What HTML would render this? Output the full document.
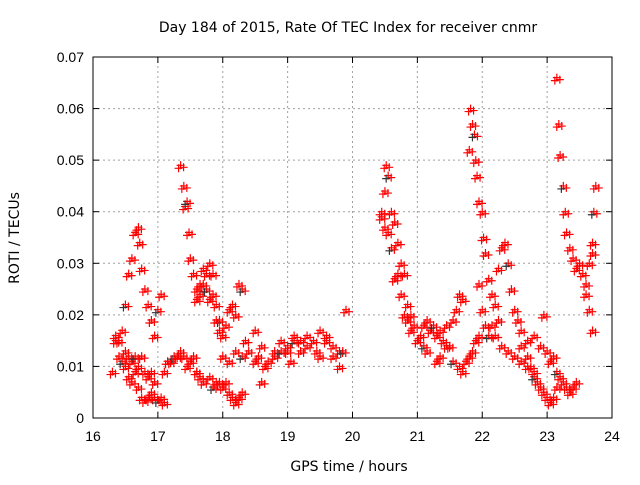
<!DOCTYPE html>
<html><head><meta charset="utf-8"><style>
body{margin:0;background:#fff;}
svg text{font-family:"Liberation Sans",sans-serif;fill:#000;}
</style></head><body>
<svg id="chart" width="640" height="480" xmlns="http://www.w3.org/2000/svg">
<rect width="640" height="480" fill="#fff"/>
<text x="348" y="32" font-size="14" text-anchor="middle" style="font-family:'DejaVu Sans',sans-serif">Day 184 of 2015, Rate Of TEC Index for receiver cnmr</text>
<text x="349" y="471" font-size="14" text-anchor="middle" style="font-family:'DejaVu Sans',sans-serif">GPS time / hours</text>
<text transform="translate(19,238) rotate(-90)" font-size="14" text-anchor="middle" style="font-family:'DejaVu Sans',sans-serif">ROTI / TECUs</text>
<g id="grid"></g>
<g id="ticks"></g>
<g id="points"></g>
<rect x="93" y="57" width="519" height="361" fill="none" stroke="#000" stroke-width="1"/>
</svg>
<script>
const xTicks=[16,17,18,19,20,21,22,23,24];
const yTicks=[0,0.01,0.02,0.03,0.04,0.05,0.06,0.07];
const yTickLabels=["0","0.01","0.02","0.03","0.04","0.05","0.06","0.07"];
const trackTimes=[
[16.3,16.35,16.4,16.45,16.5,16.55,16.6,16.65,16.7,16.75,16.8,16.85,16.9,16.95,17.0,17.05,17.1],
[16.35,16.4,16.45,16.5,16.55,16.6,16.65,16.7,16.72,16.75,16.8,16.85,16.9,16.95,17.0,17.05],
[16.5,16.55,16.6,16.65,16.7,16.75,16.8,16.85,16.9,16.95],
[17.1,17.15,17.2,17.25,17.3,17.35,17.4,17.45,17.5,17.55,17.6,17.65],
[17.35,17.4,17.42,17.45,17.48,17.5,17.55,17.6,17.65,17.7,17.75,17.8,17.85,17.9,17.95],
[17.6,17.65,17.7,17.75,17.8,17.85,17.9,17.95,18.0,18.05,18.1,18.15,18.2,18.25,18.3],
[17.6,17.7,17.8,17.85,17.9,17.95,18.0,18.05,18.1,18.15,18.2,18.25,18.3],
[18.0,18.1,18.2,18.3,18.35,18.4,18.5,18.55,18.6,18.65,18.7,18.8,18.9,19.0,19.1,19.2,19.3,19.4,19.5,19.6,19.7,19.8,19.9],
[18.5,18.6,18.8,18.9,19.0,19.05,19.1,19.2,19.3,19.45,19.5,19.6,19.7,19.8,19.85],
[20.45,20.5,20.52,20.55,20.6,20.65,20.7,20.75,20.8,20.85,20.9,20.95,21.0,21.05,21.1,21.15],
[20.45,20.5,20.55,20.6,20.65,20.7,20.75,20.8,20.85,20.9],
[21.1,21.15,21.2,21.25,21.3,21.35,21.4,21.45,21.5,21.55,21.6,21.65,21.7],
[21.3,21.35,21.45,21.55,21.65,21.7,21.75,21.8,21.85,21.9,21.95],
[21.8,21.82,21.85,21.88,21.9,21.92,21.95,22.0,22.02,22.05,22.1,22.15,22.2,22.25],
[21.95,22.0,22.05,22.1,22.15,22.2,22.3,22.4,22.5,22.6,22.7,22.8],
[22.25,22.3,22.35,22.4,22.45,22.5,22.55,22.6,22.7,22.8,22.9,22.95],
[22.6,22.7,22.75,22.8,22.85,22.9,22.95,23.0,23.05,23.1,23.15],
[23.15,23.18,23.2,23.25,23.28,23.3,23.35,23.4,23.45,23.5,23.55,23.6,23.65,23.7],
[23.0,23.05,23.1,23.15,23.2,23.25,23.3,23.35,23.4,23.45],
[23.6,23.65,23.7,23.72,23.75,23.7]
];
const trackValues=[
[0.009,0.015,0.012,0.011,0.010,0.008,0.007,0.009,0.006,0.004,0.0035,0.004,0.005,0.004,0.0035,0.004,0.003],
[0.016,0.015,0.017,0.022,0.028,0.031,0.036,0.037,0.034,0.029,0.025,0.022,0.019,0.016,0.021,0.024],
[0.013,0.012,0.011,0.012,0.010,0.012,0.009,0.008,0.009,0.007],
[0.009,0.011,0.011,0.012,0.012,0.013,0.012,0.010,0.011,0.012,0.009,0.008],
[0.049,0.045,0.041,0.042,0.036,0.031,0.028,0.025,0.024,0.026,0.028,0.030,0.028,0.022,0.019],
[0.023,0.026,0.029,0.025,0.023,0.024,0.019,0.017,0.016,0.018,0.021,0.022,0.020,0.026,0.025],
[0.009,0.007,0.008,0.006,0.007,0.007,0.006,0.007,0.005,0.004,0.003,0.004,0.005],
[0.012,0.011,0.013,0.012,0.015,0.013,0.011,0.012,0.007,0.010,0.011,0.013,0.015,0.014,0.015,0.013,0.016,0.015,0.017,0.016,0.014,0.013,0.021],
[0.017,0.014,0.012,0.013,0.013,0.011,0.016,0.015,0.014,0.013,0.012,0.015,0.012,0.010,0.013],
[0.040,0.044,0.049,0.047,0.040,0.038,0.034,0.030,0.028,0.022,0.020,0.018,0.015,0.016,0.014,0.013],
[0.039,0.037,0.036,0.033,0.027,0.028,0.024,0.020,0.019,0.017],
[0.018,0.019,0.017,0.018,0.016,0.017,0.015,0.018,0.014,0.019,0.021,0.024,0.023],
[0.011,0.012,0.014,0.011,0.010,0.009,0.011,0.012,0.013,0.015,0.016],
[0.052,0.060,0.057,0.055,0.050,0.047,0.042,0.040,0.035,0.032,0.027,0.024,0.022,0.019],
[0.026,0.021,0.018,0.016,0.018,0.016,0.014,0.013,0.012,0.011,0.010,0.009],
[0.029,0.033,0.034,0.030,0.025,0.021,0.019,0.017,0.015,0.016,0.014,0.020],
[0.014,0.012,0.010,0.008,0.007,0.006,0.005,0.004,0.003,0.004,0.006],
[0.066,0.057,0.051,0.045,0.040,0.036,0.033,0.031,0.029,0.030,0.028,0.026,0.030,0.032],
[0.013,0.011,0.012,0.009,0.008,0.007,0.006,0.005,0.006,0.007],
[0.024,0.021,0.034,0.040,0.045,0.017]
];
const NS="http://www.w3.org/2000/svg";
const X0=93,X1=612,Y0=418,Y1=57;
function xs(t){return X0+(t-16)/(24-16)*(X1-X0);}
function ys(v){return Y0-(v/0.07)*(Y0-Y1);}
function mk(tag,attrs,parent){const e=document.createElementNS(NS,tag);for(const k in attrs)e.setAttribute(k,attrs[k]);parent.appendChild(e);return e;}
const grid=document.getElementById('grid'),ticks=document.getElementById('ticks'),pts=document.getElementById('points');
xTicks.forEach((t,i)=>{
  const x=xs(t);
  if(i>0&&i<xTicks.length-1){const g=mk('line',{x1:x,x2:x,y1:Y0,y2:Y1,stroke:'#a0a0a0','stroke-dasharray':'2,3'},grid);
  
  }
  mk('line',{x1:x,x2:x,y1:Y0,y2:Y0-6,stroke:'#000'},ticks);
  mk('line',{x1:x,x2:x,y1:Y1,y2:Y1+6,stroke:'#000'},ticks);
  const tx=mk('text',{x:x,y:Y0+23,'font-size':14,'text-anchor':'middle'},ticks);
  tx.textContent=String(t);
  
  
});
yTicks.forEach((v,i)=>{
  const y=ys(v);
  if(i>0&&i<yTicks.length-1){const g=mk('line',{x1:X0,x2:X1,y1:y,y2:y,stroke:'#a0a0a0','stroke-dasharray':'2,3'},grid);
  
  }
  mk('line',{x1:X0,x2:X0+6,y1:y,y2:y,stroke:'#000'},ticks);
  mk('line',{x1:X1,x2:X1-6,y1:y,y2:y,stroke:'#000'},ticks);
  const tx=mk('text',{x:X0-9,y:y+5,'font-size':14,'text-anchor':'end'},ticks);
  tx.textContent=yTickLabels[i];
  
  
});
const offs=[[0,0],[3,2],[-2,3]];
trackTimes.forEach((tt,k)=>{
  tt.forEach((t,i)=>{
    const cx=xs(t),cy=ys(trackValues[k][i]);
    offs.forEach((o,j)=>{
      const x=cx+o[0],y=cy+o[1];
      const p=mk('path',{d:`M${x-4},${y}H${x+4}M${x},${y-4}V${y+4}`,stroke:(j==2&&i%11==3)?'#333':'#f00','stroke-width':1.2,fill:'none'},pts);
      
      
    });
  });
});
</script>
</body></html>
